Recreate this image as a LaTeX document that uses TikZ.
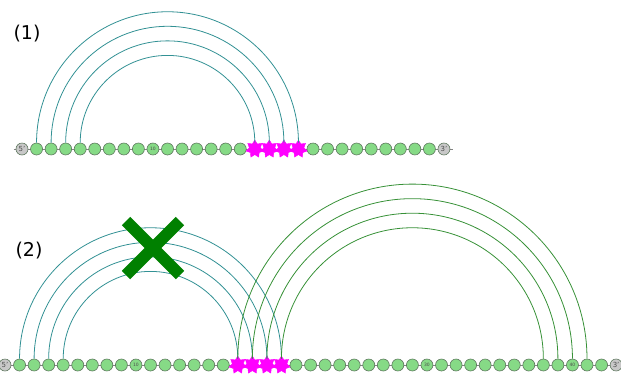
\documentclass[tikz,border=0pt]{standalone}
\usepackage{fontspec}
\setsansfont{DejaVu Sans}
\usetikzlibrary{shapes.geometric,calc,backgrounds}
\definecolor{nodefill}{RGB}{134,218,134}
\definecolor{nodeedge}{RGB}{95,120,95}
\definecolor{endfill}{RGB}{200,200,200}
\definecolor{mag}{RGB}{255,0,255}
\definecolor{backbone}{RGB}{130,130,130}
\definecolor{arcteal}{RGB}{50,145,148}
\definecolor{arcgreen}{RGB}{55,145,55}
\definecolor{crossgreen}{RGB}{0,128,0}
\newcommand\rarc[3]{\draw[#1] let \p1=(#2.north),\p2=(#3.north),\n1={(\x2-\x1)/2} in (\p1) arc[start angle=180,end angle=0,radius=\n1];}
\newcommand\larc[3]{\draw[#1] let \p1=(#3.north),\p2=(#2.north),\n1={(\x1-\x2)/2} in (\p1) arc[start angle=0,end angle=180,radius=\n1];}
\begin{document}
\begin{tikzpicture}[x=1pt,y=-1pt,
 base/.style={circle,draw=nodeedge,line width=0.6pt,minimum size=12pt,inner sep=0pt},
 nt/.style={base,fill=nodefill},
 endn/.style={base,fill=endfill,font=\sffamily\fontsize{7}{7}\selectfont,text=black!70},
 numn/.style={nt,font=\sffamily\fontsize{4.5}{4.5}\selectfont,text=black!70},
 st/.style={star,star points=7,star point ratio=1.6,minimum size=18pt,inner sep=0pt,fill=mag,draw=mag},
 bb/.style={draw=backbone,line width=0.8pt},
 tarc/.style={draw=arcteal,line width=0.8pt},
 garc/.style={draw=arcgreen,line width=0.8pt},
 panel/.style={font=\sffamily\fontsize{19}{19}\selectfont},
 cross/.style={draw=crossgreen,line width=12pt}]
\useasboundingbox (0,0) rectangle (621,373);
% ---- top row ----
\node[endn] (t0) at (22,149) {5'};
\foreach \i in {1,2,3,4,5,6,7,8,10,11,12,13,14,15,20,21,22,23,24,25,26,27,28}
  \node[nt] (t\i) at ({22+14.55*\i},149) {};
\node[numn] (t9) at ({22+14.55*9},149) {10};
\foreach \i in {16,17,18,19}
  \node[st] (t\i) at ({22+14.55*\i},149) {};
\node[endn] (t29) at ({22+14.55*29},149) {3'};
\coordinate (tb) at ($(t0.west)+(-2,0)$);
\coordinate (te) at ($(t29.east)+(3,0)$);
\begin{scope}[on background layer]
\draw[bb] (tb) -- (te);
\end{scope}
\rarc{tarc}{t1}{t19}
\rarc{tarc}{t2}{t18}
\rarc{tarc}{t3}{t17}
\rarc{tarc}{t4}{t16}
\node[panel] (p1) at (27,34) {(1)};
% ---- bottom row ----
\node[endn] (b0) at (5,365) {5'};
\foreach \i in {1,2,3,4,5,6,7,8,10,11,12,13,14,15,20,21,22,23,24,25,26,27,28,30,31,32,33,34,35,36,37,38,40,41}
  \node[nt] (b\i) at ({5+14.55*\i},365) {};
\node[numn] (b9) at ({5+14.55*9},365) {10};
\node[numn] (b29) at ({5+14.55*29},365) {30};
\node[numn] (b39) at ({5+14.55*39},365) {40};
\foreach \i in {16,17,18,19}
  \node[st] (b\i) at ({5+14.55*\i},365) {};
\node[endn] (b42) at ({5+14.55*42},365) {3'};
\coordinate (be) at ($(b42.east)+(6,0)$);
\begin{scope}[on background layer]
\draw[bb] (b0.center) -- (be);
\end{scope}
\rarc{tarc}{b1}{b19}
\rarc{tarc}{b2}{b18}
\rarc{tarc}{b3}{b17}
\rarc{tarc}{b4}{b16}
\larc{garc}{b16}{b40}
\larc{garc}{b17}{b39}
\larc{garc}{b18}{b38}
\larc{garc}{b19}{b37}
\node[panel] (p2) at (29,251) {(2)};
% ---- cross ----
\draw[cross] (126,221) -- (180,275);
\draw[cross] (180,221) -- (126,275);
\end{tikzpicture}
\end{document}
